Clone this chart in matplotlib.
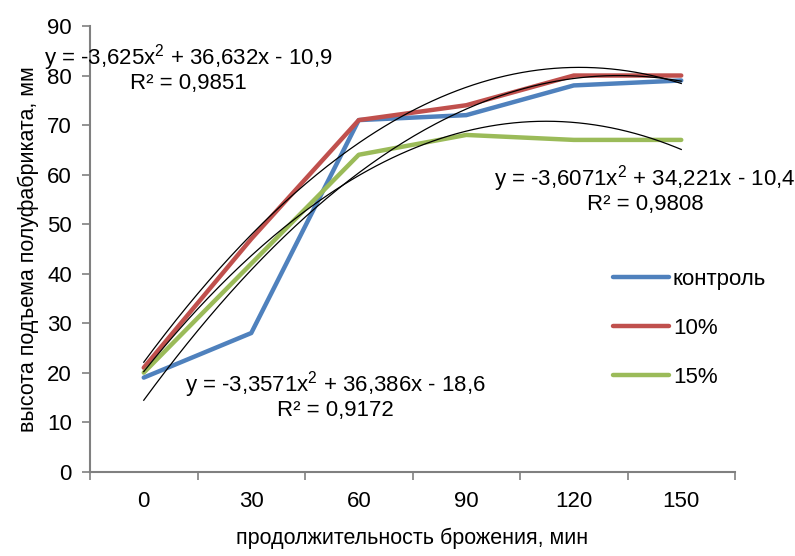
import numpy as np
import matplotlib
matplotlib.use('Agg')
import matplotlib.pyplot as plt

plt.rcParams['font.family'] = ['Liberation Sans', 'DejaVu Sans']
plt.rcParams['mathtext.fontset'] = 'custom'
plt.rcParams['mathtext.rm'] = 'Liberation Sans'

categories = ['0', '30', '60', '90', '120', '150']
control = [19, 28, 71, 72, 78, 79]
p10 = [21, 47, 71, 74, 80, 80]
p15 = [20, 42, 64, 68, 67, 67]

# trendline coefficients (a, b, c), x = category index 1..6
coef_control = [-3.3571, 36.386, -18.6]
coef_10 = [-3.625, 36.632, -10.9]
coef_15 = [-3.6071, 34.221, -10.4]

eq_control = 'y = -3,3571x$^2$ + 36,386x - 18,6\nR² = 0,9172'
eq_10 = 'y = -3,625x$^2$ + 36,632x - 10,9\nR² = 0,9851'
eq_15 = 'y = -3,6071x$^2$ + 34,221x - 10,4\nR² = 0,9808'

fs = 16

fig = plt.figure(figsize=(7.95, 5.56), dpi=100)
ax = fig.add_axes([90/795, 1 - 471.7/556, 645/795, 445.7/556])

x = np.arange(1, len(categories) + 1)
ax.plot(x, control, color='#4F81BD', lw=3.2, label='контроль', solid_capstyle='round')
ax.plot(x, p10, color='#C0504D', lw=3.2, label='10%', solid_capstyle='round')
ax.plot(x, p15, color='#9BBB59', lw=3.2, label='15%', solid_capstyle='round')

xs = np.linspace(1, 6, 200)
for c in [coef_control, coef_10, coef_15]:
    ax.plot(xs, np.polyval(c, xs), color='black', lw=0.9)

ax.set_xlim(0.5, 6.5)
ax.set_ylim(0, 90)
ax.set_yticks(range(0, 91, 10))
ax.set_xticks(x)
ax.set_xticklabels(categories)
ax.set_xticks(np.arange(0.5, 7, 1), minor=True)
ax.tick_params(axis='x', which='major', length=0, pad=14, labelsize=fs)
ax.tick_params(axis='x', which='minor', length=6, width=1.2, color='#808080', direction='out')
ax.tick_params(axis='y', length=6, width=1.2, color='#808080', labelsize=fs, pad=7)

for s in ['top', 'right']:
    ax.spines[s].set_visible(False)
for s in ['left', 'bottom']:
    ax.spines[s].set_color('#808080')
    ax.spines[s].set_linewidth(1.5)

ax.set_xlabel('продолжительность брожения, мин', fontsize=15.5, labelpad=11)
ax.set_ylabel('высота подъема полуфабриката, мм', fontsize=15.5, labelpad=6)

fig.text(188/795, 1 - 68/556, eq_10, ha='center', va='center', fontsize=fs, linespacing=1.05)
fig.text(645/795, 1 - 189/556, eq_15, ha='center', va='center', fontsize=fs, linespacing=1.05)
fig.text(335/795, 1 - 395/556, eq_control, ha='center', va='center', fontsize=fs, linespacing=1.05)

leg = ax.legend(loc='upper left', bbox_to_anchor=(593/795, 1 - 249/556), bbox_transform=fig.transFigure,
                frameon=False, fontsize=fs, handlelength=2.5, handletextpad=0.2, labelspacing=1.25)

fig.savefig('out.png', dpi=100)
